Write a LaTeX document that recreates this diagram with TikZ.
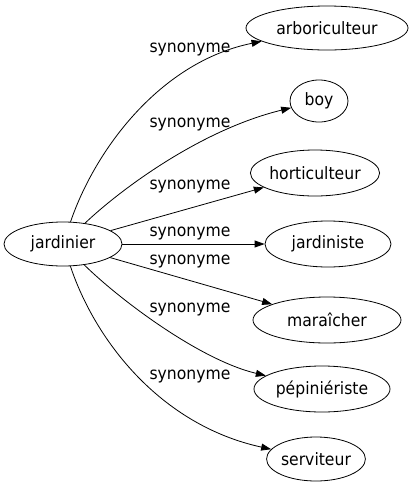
\documentclass[tikz,border=0pt]{standalone}
\usepackage{fontspec}
\setmainfont[FakeStretch=0.92]{DejaVu Sans}
\usetikzlibrary{shapes.geometric,arrows.meta}
\tikzset{
  term/.style={draw, ellipse, inner sep=0pt, font=\fontsize{17}{19}\selectfont, line width=0.8pt},
  rel/.style={font=\fontsize{17}{19}\selectfont, inner sep=0pt},
  edge/.style={draw, line width=0.8pt, -{Triangle[length=10pt,width=7pt]}}
}
\begin{document}
\begin{tikzpicture}[x=1pt,y=-1pt]
\useasboundingbox (0,0) rectangle (414,491);
\node[term, minimum width=118pt, minimum height=44pt] (jard) at (63,244) {jardinier};
\node[term, minimum width=162pt, minimum height=44pt] (arbor) at (327,28) {arboriculteur};
\node[term, minimum width=58pt, minimum height=42pt] (boy) at (319,101) {boy};
\node[term, minimum width=124pt, minimum height=46pt] (hort) at (315,173) {horticulteur};
\node[term, minimum width=126pt, minimum height=46pt] (jdn) at (328,244) {jardiniste};
\node[term, minimum width=148pt, minimum height=46pt] (mara) at (327,320) {maraîcher};
\node[term, minimum width=136pt, minimum height=46pt] (pep) at (322,389) {pépiniériste};
\node[term, minimum width=98pt, minimum height=44pt] (serv) at (316,459) {serviteur};
\draw[edge] (jard) .. controls (95,150) and (160,62) .. (arbor);
\draw[edge] (jard) .. controls (120,190) and (200,130) .. (boy);
\draw[edge] (jard) -- (hort);
\draw[edge] (jard) -- (jdn);
\draw[edge] (jard) -- (mara);
\draw[edge] (jard) .. controls (120,300) and (200,360) .. (pep);
\draw[edge] (jard) .. controls (95,340) and (160,425) .. (serv);
\node[rel] (l1) at (190,50) {synonyme};
\node[rel] (l2) at (190,125) {synonyme};
\node[rel] (l3) at (190,187) {synonyme};
\node[rel] (l4) at (190,234) {synonyme};
\node[rel] (l5) at (190,262) {synonyme};
\node[rel] (l6) at (190,310) {synonyme};
\node[rel] (l7) at (190,377) {synonyme};
\end{tikzpicture}
\end{document}
